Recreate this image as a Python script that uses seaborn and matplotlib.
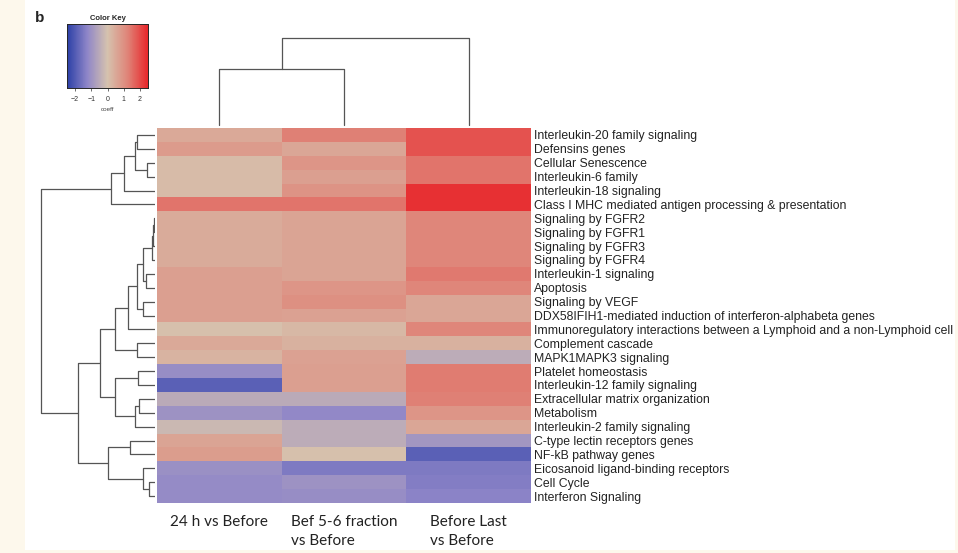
import numpy as np
import pandas as pd
import matplotlib
matplotlib.use('Agg')
import matplotlib.pyplot as plt
import seaborn as sns
from matplotlib.colors import LinearSegmentedColormap
from matplotlib.patches import Rectangle

# pathway rows, top to bottom as in the dendrogram order
pathways = ['Interleukin-20 family signaling', 'Defensins genes', 'Cellular Senescence',
            'Interleukin-6 family', 'Interleukin-18 signaling',
            'Class I MHC mediated antigen processing & presentation',
            'Signaling by FGFR2', 'Signaling by FGFR1', 'Signaling by FGFR3', 'Signaling by FGFR4',
            'Interleukin-1 signaling', 'Apoptosis', 'Signaling by VEGF',
            'DDX58IFIH1-mediated induction of interferon-alphabeta genes',
            'Immunoregulatory interactions between a Lymphoid and a non-Lymphoid cell',
            'Complement cascade', 'MAPK1MAPK3 signaling', 'Platelet homeostasis',
            'Interleukin-12 family signaling', 'Extracellular matrix organization', 'Metabolism',
            'Interleukin-2 family signaling', 'C-type lectin receptors genes', 'NF-kB pathway genes',
            'Eicosanoid ligand-binding receptors', 'Cell Cycle', 'Interferon Signaling']
conditions = ['24 h vs Before', 'Bef 5-6 fraction\nvs Before', 'Before Last\nvs Before']

h24_vs_before = [0.5, 0.8, 0.15, 0.15, 0.15, 1.45, 0.45, 0.45, 0.45, 0.45, 0.7, 0.7, 0.7, 0.7,
                 0.05, 0.5, 0.3, -1.1, -1.9, -0.5, -1.0, -0.2, 0.6, 0.75, -1.05, -1.15, -1.15]
bef56_vs_before = [1.3, 0.55, 0.9, 0.7, 0.95, 1.45, 0.6, 0.6, 0.6, 0.6, 0.6, 0.9, 1.0, 0.65,
                   0.2, 0.35, 0.65, 0.7, 0.7, -0.5, -1.2, -0.45, -0.45, 0.05, -1.45, -1.0, -1.1]
last_vs_before = [1.9, 1.9, 1.45, 1.45, 2.35, 2.35, 1.2, 1.2, 1.2, 1.2, 1.4, 1.2, 0.55, 0.55,
                  1.2, 0.35, -0.45, 1.35, 1.35, 1.3, 0.9, 0.55, -0.9, -1.9, -1.45, -1.4, -1.3]

# dendrogram merges: (child a, child b, height); ids >= n are earlier merges
row_merges = [(0, 1, 18), (2, 3, 8), (27, 28, 20), (29, 4, 31), (30, 5, 44),
              (6, 7, 1), (32, 8, 2), (33, 9, 3), (10, 11, 9), (34, 35, 12),
              (12, 13, 12), (36, 37, 18), (38, 14, 27), (15, 16, 18), (39, 40, 40),
              (17, 18, 17), (19, 20, 16), (43, 21, 20), (42, 44, 40), (41, 45, 55),
              (22, 23, 25), (25, 26, 6), (24, 48, 12), (47, 49, 47), (46, 50, 77),
              (31, 51, 114)]
col_merges = [(0, 1, 58), (3, 2, 90)]

df = pd.DataFrame({conditions[0]: h24_vs_before,
                   conditions[1]: bef56_vs_before,
                   conditions[2]: last_vs_before}, index=pathways)


def dendro_segments(merges, n):
    pos = {i: i + 0.5 for i in range(n)}
    hgt = {i: 0 for i in range(n)}
    segs = []
    for k, (a, b, h) in enumerate(merges):
        segs.append(([hgt[a], h, h, hgt[b]], [pos[a], pos[a], pos[b], pos[b]]))
        pos[n + k] = (pos[a] + pos[b]) / 2
        hgt[n + k] = h
    return segs


sns.set_style('white')
plt.rcParams['font.family'] = ['Liberation Sans', 'DejaVu Sans']

W, H = 958, 553
fig = plt.figure(figsize=(W / 100, H / 100), dpi=100, facecolor='#fdf8ec')
fig.patches.append(Rectangle((25 / W, 3 / H), 930 / W, 1 - 3 / H, transform=fig.transFigure,
                             facecolor='white', edgecolor='none', zorder=-10))

def box(x0, y0, x1, y1):
    return [x0 / W, 1 - y1 / H, (x1 - x0) / W, (y1 - y0) / H]

ax_heat = fig.add_axes(box(157, 128, 531, 503))
ax_row = fig.add_axes(box(40, 128, 155, 503))
ax_col = fig.add_axes(box(157, 35, 531, 128))
ax_key = fig.add_axes(box(67, 24, 148, 88))

cmap = LinearSegmentedColormap.from_list(
    'key', ['#2b3fa6', '#8f86c8', '#d6c2ae', '#df8478', '#e8262a'])

sns.heatmap(df, ax=ax_heat, cmap=cmap, vmin=-2.5, vmax=2.5, cbar_ax=ax_key,
            cbar_kws={'orientation': 'horizontal', 'ticks': [-2, -1, 0, 1, 2]},
            xticklabels=True, yticklabels=True)
ax_heat.yaxis.tick_right()
ax_heat.set_yticklabels(pathways, rotation=0, fontsize=8.8, color='#222222')
ax_heat.tick_params(axis='y', length=0, pad=2)
ax_heat.set_xticklabels(conditions, rotation=0, fontsize=11, family='Lato',
                        ha='center', multialignment='left', linespacing=1.45,
                        color='#222222')
ax_heat.tick_params(axis='x', length=0, pad=9)
ax_heat.set_xlabel('')
ax_heat.set_ylabel('')

# color key
ax_key.tick_params(labelsize=5, length=2.5, width=0.5, pad=3, colors='#333333')
ax_key.set_title('Color Key', fontsize=5.5, fontweight='bold', pad=3)
ax_key.set_xlabel('coeff', fontsize=4.5, labelpad=3, color='#444444')
for s in ax_key.spines.values():
    s.set_visible(True)
    s.set_linewidth(0.6)

# row dendrogram
for xs, ys in dendro_segments(row_merges, len(pathways)):
    ax_row.plot(xs, ys, color='#555555', lw=0.9)
ax_row.set_xlim(115, 0)
ax_row.set_ylim(len(pathways), 0)
ax_row.axis('off')

# column dendrogram
for hs, ps in dendro_segments(col_merges, len(conditions)):
    ax_col.plot(ps, hs, color='#555555', lw=0.9)
ax_col.set_xlim(0, len(conditions))
ax_col.set_ylim(-3, 93)
ax_col.axis('off')

fig.text(35 / W, 1 - 18 / H, 'b', fontsize=11, fontweight='bold', ha='left', va='center')

fig.savefig('out.png', dpi=100, facecolor=fig.get_facecolor())
